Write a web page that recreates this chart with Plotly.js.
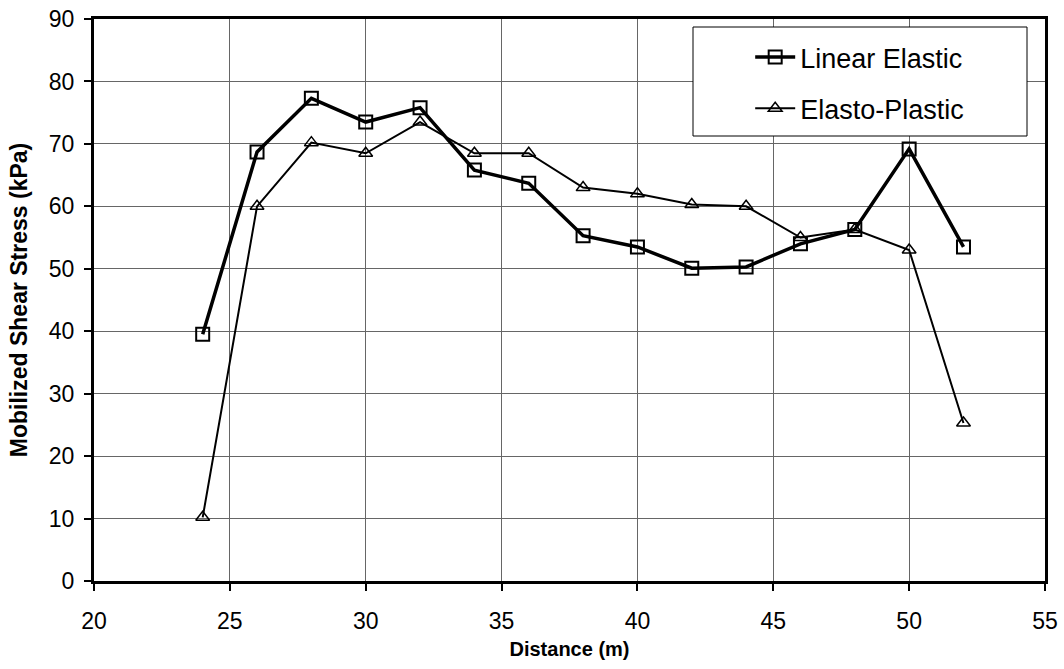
<!DOCTYPE html>
<html>
<head>
<meta charset="utf-8">
<script src="https://cdn.plot.ly/plotly-3.0.1.min.js"></script>
<style>
  html, body { margin: 0; padding: 0; background: #fff; }
  #chart { width: 1064px; height: 669px; }
</style>
</head>
<body>
<div id="chart"></div>
<script>
// Distance along the section (m)
const distance = [24, 26, 28, 30, 32, 34, 36, 38, 40, 42, 44, 46, 48, 50, 52];

// Mobilized shear stress (kPa) for each analysis
const linearElastic = [39.5, 68.7, 77.3, 73.5, 75.8, 65.8, 63.7, 55.3, 53.5, 50.1, 50.3, 54.0, 56.3, 69.2, 53.5];
const elastoPlastic = [10.2, 60.0, 70.2, 68.5, 73.5, 68.5, 68.5, 63.0, 62.0, 60.3, 60.0, 55.0, 56.3, 53.0, 25.3];

const xTicks = [20, 25, 30, 35, 40, 45, 50, 55];
const yTicks = [0, 10, 20, 30, 40, 50, 60, 70, 80, 90];

const font = 'Arial, "Liberation Sans", sans-serif';

const traces = [
  {
    x: distance, y: linearElastic, name: 'Linear Elastic',
    type: 'scatter', mode: 'lines+markers', legendgroup: 'a',
    line: { color: '#000', width: 3.5 },
    marker: { symbol: 'square-open', size: 13, color: '#000', line: { width: 2, color: '#000' } }
  },
  {
    x: distance, y: elastoPlastic, name: 'Elasto-Plastic',
    type: 'scatter', mode: 'lines+markers', legendgroup: 'b',
    line: { color: '#000', width: 2 },
    marker: { symbol: 'triangle-up-open', size: 12, color: '#000', line: { width: 1.5, color: '#000' } }
  }
];

const layout = {
  width: 1064, height: 669,
  margin: { l: 94, r: 19, t: 19, b: 88 },
  paper_bgcolor: '#fff', plot_bgcolor: '#fff',
  font: { family: font, color: '#000' },
  showlegend: true,
  legend: {
    x: 0.69, y: 0.975, xanchor: 'left', yanchor: 'top',
    bgcolor: 'rgba(0,0,0,0)', borderwidth: 0,
    font: { family: font, size: 27, color: '#000' },
    traceorder: 'grouped', tracegroupgap: 13, itemwidth: 40
  },
  xaxis: {
    range: [20, 55], tickvals: xTicks, ticktext: xTicks.map(String),
    showgrid: true, gridcolor: '#666', gridwidth: 1,
    zeroline: false, showline: true, linecolor: '#000', linewidth: 3, mirror: true,
    ticks: 'outside', ticklen: 7, tickwidth: 2, tickcolor: '#000',
    ticklabelstandoff: 10,
    tickfont: { family: font, size: 23, color: '#000' },
    title: { text: '<b>Distance (m)</b>', font: { family: font, size: 20, color: '#000' }, standoff: 10 }
  },
  yaxis: {
    range: [0, 90], tickvals: yTicks, ticktext: yTicks.map(String),
    showgrid: true, gridcolor: '#666', gridwidth: 1,
    zeroline: false, showline: true, linecolor: '#000', linewidth: 3, mirror: true,
    ticks: 'outside', ticklen: 7, tickwidth: 2, tickcolor: '#000',
    ticklabelstandoff: 5,
    tickfont: { family: font, size: 23, color: '#000' },
    title: { text: '<b>Mobilized Shear Stress (kPa)</b>', font: { family: font, size: 23, color: '#000' }, standoff: 15 }
  },
  shapes: [
    {
      type: 'rect', xref: 'paper', yref: 'paper', layer: 'above',
      x0: (693 - 94) / 951, x1: (1027 - 94) / 951,
      y0: (581 - 136) / 562, y1: (581 - 27) / 562,
      fillcolor: '#fff', line: { color: '#000', width: 1 }
    }
  ]
};

Plotly.newPlot('chart', traces, layout, { displayModeBar: false, staticPlot: true });
</script>
</body>
</html>
